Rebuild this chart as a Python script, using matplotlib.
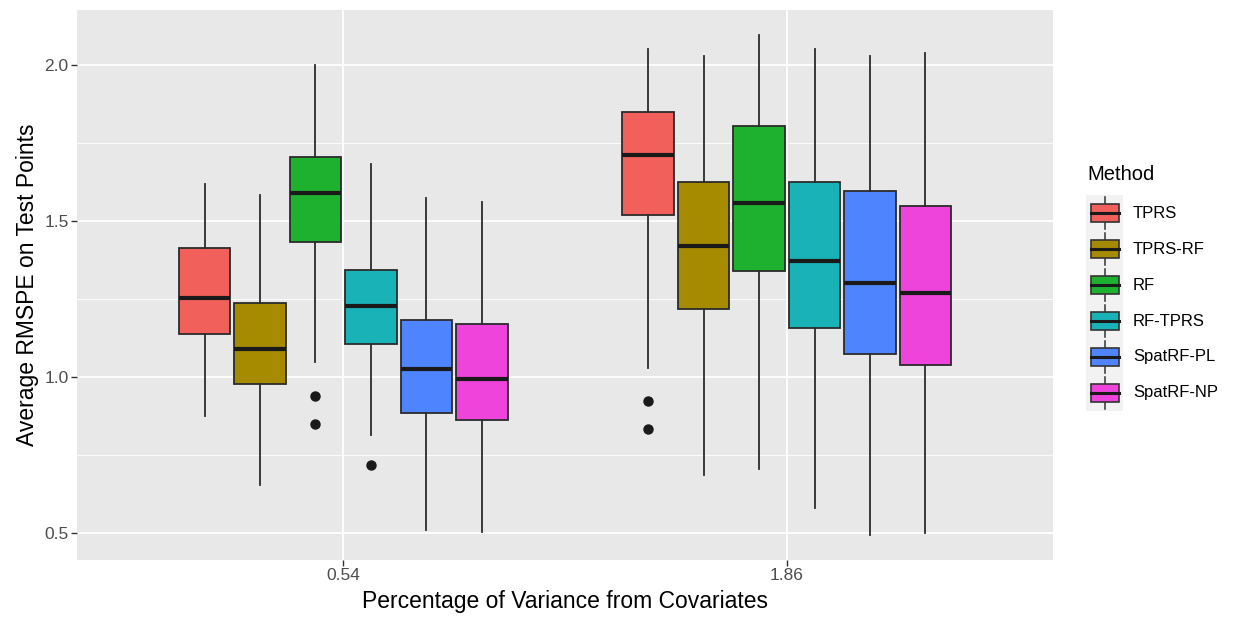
import matplotlib
matplotlib.use("Agg")
import matplotlib.pyplot as plt
from matplotlib.patches import Rectangle

plt.rcParams['font.family'] = ['Liberation Sans', 'DejaVu Sans']

# データ
groups = ['0.54', '1.86']
methods = ['TPRS', 'TPRS-RF', 'RF', 'RF-TPRS', 'SpatRF-PL', 'SpatRF-NP']
colors = ['#F1605B', '#A68A00', '#1DB12F', '#19B2B6', '#4E84FE', '#EE44DB']

# 各グループの箱ひげ統計量（メソッド順）
whislo = [[0.875, 0.654, 1.050, 0.815, 0.510, 0.505],
          [1.029, 0.686, 0.705, 0.581, 0.494, 0.500]]
q1 = [[1.139, 0.977, 1.432, 1.105, 0.885, 0.862],
      [1.518, 1.218, 1.339, 1.156, 1.073, 1.040]]
med = [[1.255, 1.090, 1.588, 1.227, 1.026, 0.995],
       [1.710, 1.420, 1.559, 1.372, 1.303, 1.268]]
q3 = [[1.413, 1.236, 1.705, 1.342, 1.183, 1.169],
      [1.850, 1.624, 1.803, 1.625, 1.597, 1.549]]
whishi = [[1.619, 1.583, 2.000, 1.682, 1.575, 1.560],
          [2.051, 2.028, 2.095, 2.051, 2.029, 2.036]]
fliers = [[[], [], [0.940, 0.851], [0.720], [], []],
          [[0.923, 0.834], [], [], [], [], []]]

# --------------------------------------------------
# 描画
# --------------------------------------------------
fig = plt.figure(figsize=(12.39, 6.2), dpi=100)
ax = fig.add_axes([77 / 1239, 1 - 560 / 620, (1053 - 77) / 1239, 550 / 620])
ax.set_facecolor('#E8E8E8')

dodge = 0.125
for g in range(len(groups)):
    for m in range(len(methods)):
        pos = g + 1 + (m - 2.5) * dodge
        stats = [dict(med=med[g][m], q1=q1[g][m], q3=q3[g][m],
                      whislo=whislo[g][m], whishi=whishi[g][m],
                      fliers=fliers[g][m])]
        ax.bxp(stats, positions=[pos], widths=0.116, patch_artist=True,
               showcaps=False, manage_ticks=False,
               boxprops=dict(facecolor=colors[m], edgecolor='#2B2B2B', linewidth=1.3),
               medianprops=dict(color='#1A1A1A', linewidth=3.0, solid_capstyle='butt'),
               whiskerprops=dict(color='#2B2B2B', linewidth=1.3),
               flierprops=dict(marker='o', markerfacecolor='#1A1A1A',
                               markeredgecolor='#1A1A1A', markersize=6.5),
               zorder=3)

ax.set_xlim(0.4, 2.6)
ax.set_ylim(0.415, 2.175)
ax.set_xticks([1, 2])
ax.set_xticklabels(groups)
ax.set_yticks([0.5, 1.0, 1.5, 2.0])
ax.set_yticklabels(['0.5', '1.0', '1.5', '2.0'])
ax.set_yticks([0.75, 1.25, 1.75], minor=True)

ax.grid(True, which='major', color='white', linewidth=1.3, zorder=0)
ax.grid(True, which='minor', axis='y', color='white', linewidth=0.6, zorder=0)
ax.set_axisbelow(True)
for s in ax.spines.values():
    s.set_visible(False)
ax.tick_params(which='major', length=4, width=1.0, color='#333333',
               labelsize=12.5, labelcolor='#4D4D4D', pad=2)
ax.tick_params(which='minor', length=0)

ax.set_xlabel('Percentage of Variance from Covariates', fontsize=16.5, labelpad=5)
ax.set_ylabel('Average RMSPE on Test Points', fontsize=16.5, labelpad=4)

# ---- 凡例（手描き） ----
lax = fig.add_axes([1086 / 1239, 1 - 411 / 620, (1239 - 1086) / 1239, 216 / 620])
lax.set_xlim(0, 153)
lax.set_ylim(len(methods), 0)
lax.axis('off')
fig.text(1087 / 1239, 1 - 175 / 620, 'Method', fontsize=14.5, va='center', ha='left')
lax.add_patch(Rectangle((0, 0), 37, len(methods), facecolor='#F2F2F2',
                        edgecolor='none'))
for i, (name, c) in enumerate(zip(methods, colors)):
    lax.plot([18.5, 18.5], [i + 0.05, i + 0.95], color='#333333', lw=1.1)
    lax.add_patch(Rectangle((5, i + 0.25), 28, 0.5, facecolor=c,
                            edgecolor='#333333', lw=1.2, zorder=3))
    lax.plot([5, 33], [i + 0.5, i + 0.5], color='#1A1A1A', lw=2.2, zorder=4)
    lax.text(47, i + 0.5, name, fontsize=12, va='center', ha='left')

plt.savefig('out.png', dpi=100)
